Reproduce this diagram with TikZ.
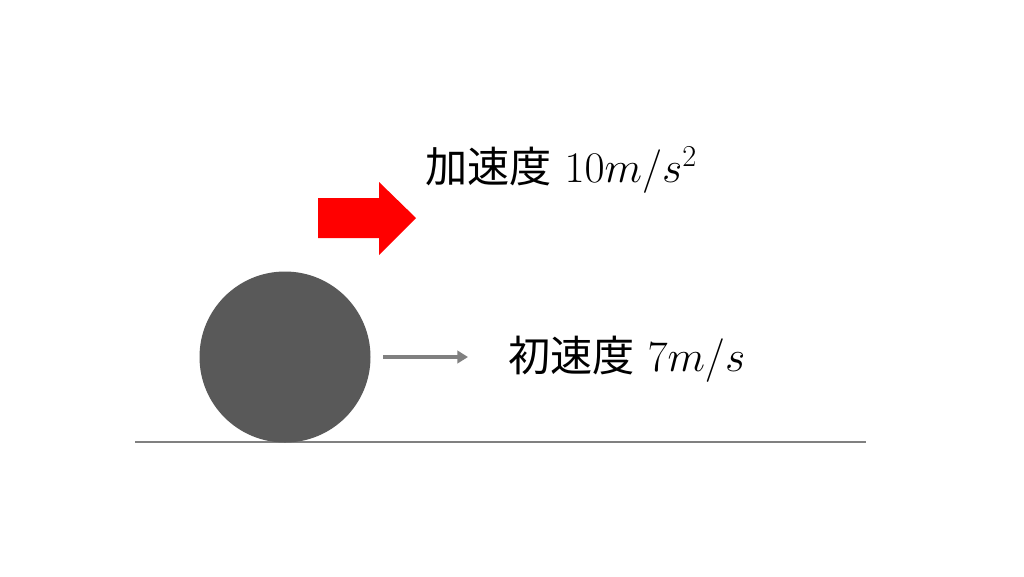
\documentclass[tikz,border=0pt]{standalone}
\usepackage{fontspec}
\newfontfamily\jpfont{Noto Sans CJK JP}[Scale=1]
\usetikzlibrary{arrows.meta}

\newcommand{\unitmath}[1]{{\fontsize{26}{28}\selectfont$#1$}}
\tikzset{
  label text/.style={anchor=west, inner sep=0pt, font=\jpfont\fontsize{24}{28}\selectfont},
  ball/.style={circle, fill=black!65, minimum size=171*0.02cm, inner sep=0pt},
}

\begin{document}
\begin{tikzpicture}[x=0.02cm, y=-0.02cm]
      \useasboundingbox[fill=white] (0,0) rectangle (1024,576);
      % ground
      \draw[black!50, line width=1.4pt] (135,442) -- (866,442);
      \node[ball] (ball) at (285,357) {};
      % red arrow
      \fill[red] (318,198) -- (379,198) -- (379,182) -- (416,218) -- (379,255) -- (379,238) -- (318,238) -- cycle;
      \node[label text] (acc) at (425,170) {加速度\hspace{0.3em}\unitmath{10m/s^2}};
      \coordinate (v0) at (383,357);
      \draw[black!50, line width=2pt, -{Triangle[length=6pt,width=7pt]}] (v0) -- ++(85,0);
      \node[label text] (vel) at (508,359) {初速度\hspace{0.3em}\unitmath{7m/s}};
    \end{tikzpicture}
\end{document}
